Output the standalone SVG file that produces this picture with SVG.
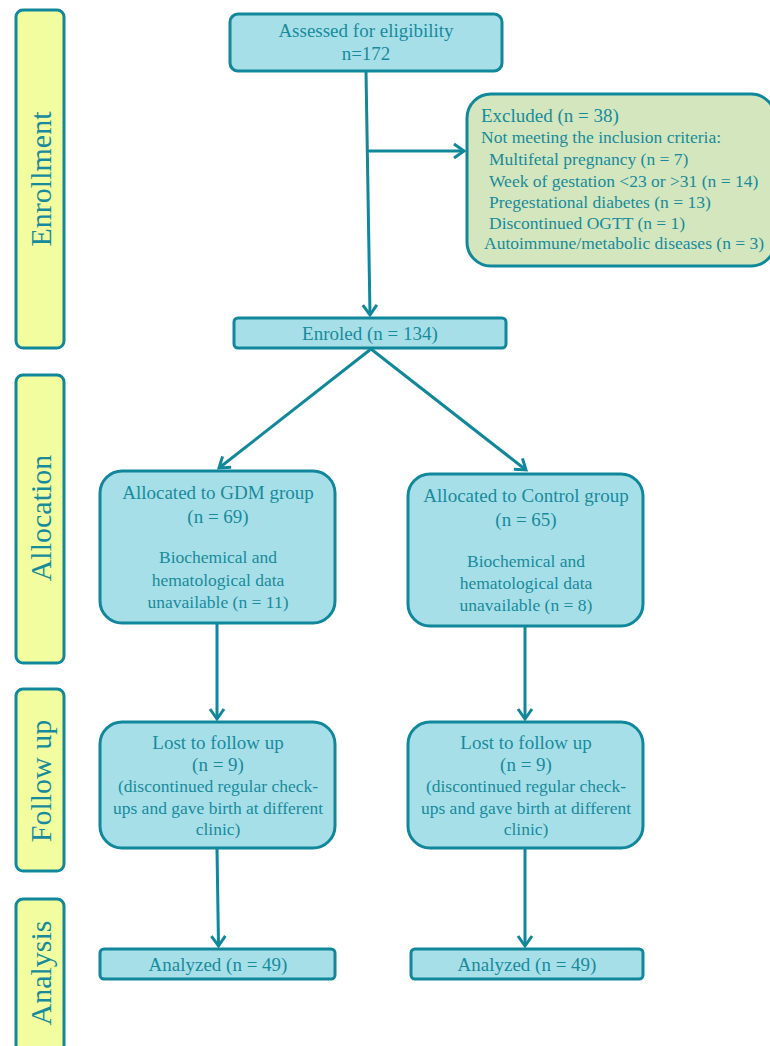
<svg xmlns="http://www.w3.org/2000/svg" width="770" height="1046" viewBox="0 0 770 1046">
<defs>
<style>
.bar{fill:#f1fd9f;stroke:#11879b;stroke-width:3}
.box{fill:#a7dfe9;stroke:#11879b;stroke-width:3}
.exc{fill:#d4e6bd;stroke:#11879b;stroke-width:3}
.t{font-family:"Liberation Serif","Times New Roman",serif;fill:#178b9c;font-size:19px;text-anchor:middle}
.s{font-size:17.5px}
.side{font-family:"Liberation Serif","Times New Roman",serif;fill:#178b9c;font-size:30px;text-anchor:middle}
.l{text-anchor:start}
.c{stroke:#11879b;stroke-width:3;fill:none}
</style>
<marker id="ah" markerUnits="userSpaceOnUse" markerWidth="24" markerHeight="24" viewBox="-12 -12 24 24" refX="0" refY="0" orient="auto" overflow="visible">
<path d="M-10,-7 L0,0 L-10,7" fill="none" stroke="#11879b" stroke-width="3"/>
</marker>
</defs>
<rect width="770" height="1046" fill="#ffffff"/>

<g id="bar-enrollment"><rect class="bar" x="16" y="10" width="48" height="338" rx="7"/><text class="side" transform="translate(51,179) rotate(-90)">Enrollment</text></g>
<g id="bar-allocation"><rect class="bar" x="16" y="375" width="48" height="288" rx="7"/><text class="side" transform="translate(51,518) rotate(-90)">Allocation</text></g>
<g id="bar-followup"><rect class="bar" x="16" y="689" width="48" height="182" rx="7"/><text class="side" transform="translate(51,781) rotate(-90)">Follow up</text></g>
<g id="bar-analysis"><rect class="bar" x="16" y="899" width="48" height="170" rx="7"/><text class="side" transform="translate(51,973) rotate(-90)">Analysis</text></g>

<g id="connectors">
<line class="c" x1="366" y1="71" x2="370" y2="315" marker-end="url(#ah)"/>
<line class="c" x1="368" y1="151" x2="464" y2="151" marker-end="url(#ah)"/>
<line class="c" x1="371" y1="349" x2="219" y2="468" marker-end="url(#ah)"/>
<line class="c" x1="371" y1="349" x2="526" y2="470" marker-end="url(#ah)"/>
<line class="c" x1="217" y1="623" x2="217" y2="719" marker-end="url(#ah)"/>
<line class="c" x1="525" y1="626" x2="525" y2="719" marker-end="url(#ah)"/>
<line class="c" x1="217" y1="848" x2="218.5" y2="946" marker-end="url(#ah)"/>
<line class="c" x1="525" y1="848" x2="525" y2="946" marker-end="url(#ah)"/>
</g>

<g id="assessed"><rect class="box" x="230" y="14" width="272" height="57" rx="8"/>
<text class="t" x="366" y="37">Assessed for eligibility</text>
<text class="t" x="366" y="60">n=172</text></g>

<g id="excluded"><rect class="exc" x="467" y="94" width="308" height="172" rx="24"/>
<text class="t l" x="481" y="122">Excluded (n = 38)</text>
<text class="t s l" x="481" y="143">Not meeting the inclusion criteria:</text>
<text class="t s l" x="489" y="165">Multifetal pregnancy (n = 7)</text>
<text class="t s l" x="489" y="187">Week of gestation &lt;23 or &gt;31 (n = 14)</text>
<text class="t s l" x="489" y="208">Pregestational diabetes (n = 13)</text>
<text class="t s l" x="489" y="229">Discontinued OGTT (n = 1)</text>
<text class="t s l" x="484" y="249">Autoimmune/metabolic diseases (n = 3)</text></g>

<g id="enroled"><rect class="box" x="234" y="318" width="272" height="30" rx="4"/>
<text class="t" x="370" y="340">Enroled (n = 134)</text></g>

<g id="gdm"><rect class="box" x="100" y="471" width="235" height="152" rx="22"/>
<text class="t" x="218" y="499">Allocated to GDM group</text>
<text class="t" x="218" y="523">(n = 69)</text>
<text class="t s" x="218" y="563">Biochemical and</text>
<text class="t s" x="218" y="586">hematological data</text>
<text class="t s" x="218" y="608">unavailable (n = 11)</text></g>

<g id="control"><rect class="box" x="408" y="474" width="235" height="152" rx="22"/>
<text class="t" x="526" y="502">Allocated to Control group</text>
<text class="t" x="526" y="526">(n = 65)</text>
<text class="t s" x="526" y="567">Biochemical and</text>
<text class="t s" x="526" y="589">hematological data</text>
<text class="t s" x="526" y="611">unavailable (n = 8)</text></g>

<g id="lost-gdm"><rect class="box" x="100" y="722" width="235" height="126" rx="22"/>
<text class="t" x="218" y="749">Lost to follow up</text>
<text class="t" x="218" y="771">(n = 9)</text>
<text class="t s" x="218" y="792">(discontinued regular check-</text>
<text class="t s" x="218" y="814">ups and gave birth at different</text>
<text class="t s" x="218" y="835">clinic)</text></g>

<g id="lost-control"><rect class="box" x="408" y="722" width="235" height="126" rx="22"/>
<text class="t" x="526" y="749">Lost to follow up</text>
<text class="t" x="526" y="771">(n = 9)</text>
<text class="t s" x="526" y="792">(discontinued regular check-</text>
<text class="t s" x="526" y="814">ups and gave birth at different</text>
<text class="t s" x="526" y="835">clinic)</text></g>

<g id="analyzed-gdm"><rect class="box" x="100" y="949" width="235" height="30" rx="4"/>
<text class="t" x="218" y="971">Analyzed (n = 49)</text></g>
<g id="analyzed-control"><rect class="box" x="411" y="949" width="232" height="30" rx="4"/>
<text class="t" x="527" y="971">Analyzed (n = 49)</text></g>
</svg>
